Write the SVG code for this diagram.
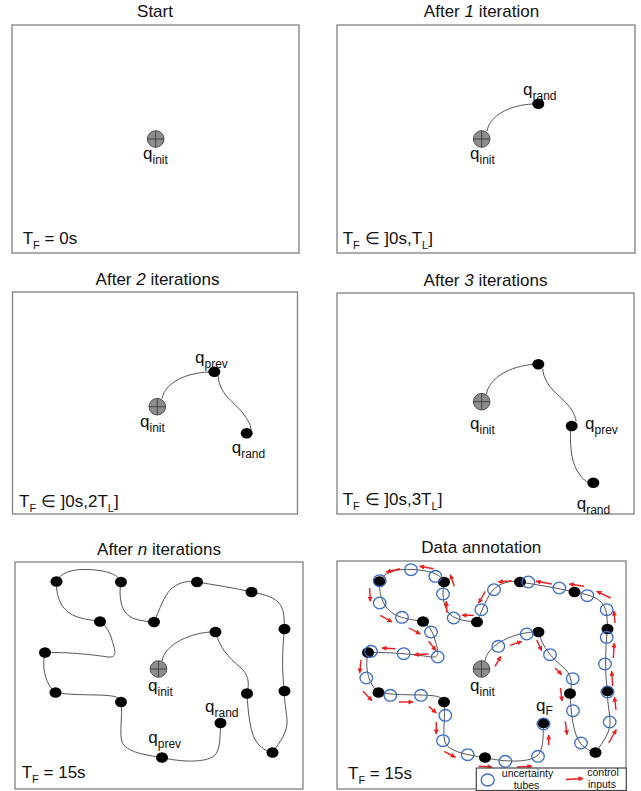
<svg xmlns="http://www.w3.org/2000/svg" xmlns:xlink="http://www.w3.org/1999/xlink" width="641" height="791" viewBox="0 0 641 791">
<style>
text{font-family:"Liberation Sans",Arial,sans-serif;fill:#111}
.title{font-size:17px;text-anchor:middle}
.q{font-size:17px}
.sub{font-size:12px}
.tf{font-size:17px}
.tsub{font-size:11px}
.leg{font-size:10.5px;text-anchor:middle}
.frame{fill:#fff;stroke:#808080;stroke-width:1.3}
.edge{fill:none;stroke:#555;stroke-width:1}
.dot{fill:#000}
.tube{fill:none;stroke:#3a6bc9;stroke-width:1.3}
.ctl{stroke:#ee1c1c;stroke-width:1.4;fill:none;marker-end:url(#ah)}
</style>
<defs>
<g id="qi"><circle r="8.3" fill="#8c8c8c" stroke="#505050" stroke-width="1"/><path d="M-8.3,0H8.3M0,-8.3V8.3" stroke="#333" stroke-width="0.8"/></g>
<marker id="ah" viewBox="0 0 10 10" refX="9" refY="5" markerUnits="userSpaceOnUse" markerWidth="6" markerHeight="5" orient="auto"><path d="M0,0L10,5L0,10z" fill="#ee1c1c"/></marker>
</defs>
<rect width="641" height="791" fill="#fff"/>

<!-- Panel 1 -->
<g id="panel1">
<rect class="frame" x="12" y="25" width="287" height="228"/>
<text class="title" x="155" y="17">Start</text>
<g id="p1-qinit"><use href="#qi" x="155.7" y="139"/><text class="q" x="143" y="159">q<tspan class="sub" dy="5">init</tspan></text></g>
<text class="tf" x="22.7" y="244">T<tspan class="tsub" dy="5">F</tspan><tspan dy="-5"> = 0s</tspan></text>
</g>

<!-- Panel 2 -->
<g id="panel2">
<rect class="frame" x="337" y="25" width="298" height="228"/>
<text class="title" x="481.5" y="17">After <tspan font-style="italic">1</tspan> iteration</text>
<g id="p2-connectors"><path class="edge" d="M487,131 C490,115 510,105 533,104"/></g>
<g id="p2-qinit"><use href="#qi" x="481.7" y="139"/><text class="q" x="470" y="159">q<tspan class="sub" dy="5">init</tspan></text></g>
<g id="p2-qrand"><ellipse class="dot" cx="538.3" cy="103.7" rx="6" ry="5.3"/><text class="q" x="523" y="95">q<tspan class="sub" dy="5">rand</tspan></text></g>
<text class="tf" x="342.7" y="244">T<tspan class="tsub" dy="5">F</tspan><tspan dy="-5"> ∈ ]0s,T</tspan><tspan class="tsub" dy="5">L</tspan><tspan dy="-5">]</tspan></text>
</g>

<!-- Panel 3 -->
<g id="panel3">
<rect class="frame" x="12.5" y="292" width="285" height="222"/>
<text class="title" x="157.5" y="285">After <tspan font-style="italic">2</tspan> iterations</text>
<g id="p3-connectors">
<path class="edge" d="M162,398.5 C165,383 185,373 209,372"/>
<path class="edge" d="M218,376 C220,395 232,400 242,412 C248,420 251,425 251,430"/>
</g>
<g id="p3-qinit"><use href="#qi" x="157.3" y="406.7"/><text class="q" x="140" y="426.7">q<tspan class="sub" dy="5">init</tspan></text></g>
<g id="p3-qprev"><ellipse class="dot" cx="214.3" cy="371.7" rx="6" ry="5.3"/><text class="q" x="195" y="362.7">q<tspan class="sub" dy="5">prev</tspan></text></g>
<g id="p3-qrand"><ellipse class="dot" cx="246.7" cy="433.3" rx="6" ry="5.3"/><text class="q" x="231.7" y="453.3">q<tspan class="sub" dy="5">rand</tspan></text></g>
<text class="tf" x="19" y="506.7">T<tspan class="tsub" dy="5">F</tspan><tspan dy="-5"> ∈ ]0s,2T</tspan><tspan class="tsub" dy="5">L</tspan><tspan dy="-5">]</tspan></text>
</g>

<!-- Panel 4 -->
<g id="panel4">
<rect class="frame" x="337" y="293" width="297" height="221"/>
<text class="title" x="485.5" y="286">After <tspan font-style="italic">3</tspan> iterations</text>
<g id="p4-connectors">
<path class="edge" d="M486.5,394 C489,378 510,366 533,364.5"/>
<path class="edge" d="M542.5,369 C545,388 560,395 568,405 C574,412 576,418 576,421.5"/>
<path class="edge" d="M570.5,431 C570,450 572,465 580,475 C583,479 586,482 589,482.5"/>
</g>
<g id="p4-qinit"><use href="#qi" x="481.7" y="401.7"/><text class="q" x="470" y="429.3">q<tspan class="sub" dy="5">init</tspan></text></g>
<g id="p4-n1"><ellipse class="dot" cx="538.3" cy="364.3" rx="6" ry="5.3"/></g>
<g id="p4-qprev"><ellipse class="dot" cx="571.7" cy="426" rx="6" ry="5.3"/><text class="q" x="585" y="429.3">q<tspan class="sub" dy="5">prev</tspan></text></g>
<g id="p4-qrand"><ellipse class="dot" cx="593.3" cy="482.7" rx="6" ry="5.3"/><text class="q" x="576.7" y="509.3">q<tspan class="sub" dy="5">rand</tspan></text></g>
<text class="tf" x="342.7" y="505">T<tspan class="tsub" dy="5">F</tspan><tspan dy="-5"> ∈ ]0s,3T</tspan><tspan class="tsub" dy="5">L</tspan><tspan dy="-5">]</tspan></text>
</g>

<!-- Panel 5 -->
<g id="panel5">
<rect class="frame" x="15" y="562" width="288" height="227"/>
<text class="title" x="159" y="555">After <tspan font-style="italic">n</tspan> iterations</text>
<g id="p5-connectors">
<path class="edge" d="M162,661 C164,647 185,634 210,632"/>
<path class="edge" d="M215.5,632 C220,648 228,657 240,667 C248,674 250,682 247,693.5"/>
<path class="edge" d="M247,693.5 C248,712 250,735 258,744 C263,749 268,752 272.5,752.5"/>
<path class="edge" d="M272.5,752.5 C280,742 288,732 287,720 C286,708 284,700 284.5,691"/>
<path class="edge" d="M284.5,691 C282,675 282,650 284.5,629"/>
<path class="edge" d="M284.5,629 C284,615 284,608 278,602 C272,596 262,594 251.5,592"/>
<path class="edge" d="M251.5,592 C235,588 215,585 197,582"/>
<path class="edge" d="M197,582 C185,580 176,584 170,590 C164,597 160,608 154,622"/>
<path class="edge" d="M154,622 C140,621 130,619 125,612 C120,605 119,592 121,582"/>
<path class="edge" d="M121,582 C118,575 110,571 90,569.5 C72,568.5 60,573 56.5,581.5"/>
<path class="edge" d="M56.5,581.5 C56,595 60,610 75,616 C85,620 93,620 100,621.5"/>
<path class="edge" d="M100,621.5 C106,626 110,632 112,640 C115,650 118,658 108,657 C95,655 70,652 45,652.5"/>
<path class="edge" d="M45,652.5 C42,665 44,683 55.5,692.5"/>
<path class="edge" d="M55.5,692.5 C75,696 100,694 112,696 C118,697 120,699 121,702"/>
<path class="edge" d="M121,702 C123,715 119,732 122,742 C126,752 145,755 162,757.5"/>
<path class="edge" d="M162,757.5 C180,762 205,763 214,756 C221,750 220,735 220.5,723"/>
</g>
<g id="p5-qinit"><use href="#qi" x="158.5" y="669"/><text class="q" x="148" y="691">q<tspan class="sub" dy="5">init</tspan></text></g>
<g id="p5-nodes">
<ellipse class="dot" cx="215.5" cy="632" rx="6" ry="5.3"/>
<ellipse class="dot" cx="247" cy="693.5" rx="6" ry="5.3"/>
<ellipse class="dot" cx="272.5" cy="752.5" rx="6" ry="5.3"/>
<ellipse class="dot" cx="284.5" cy="691" rx="6" ry="5.3"/>
<ellipse class="dot" cx="284.5" cy="629" rx="6" ry="5.3"/>
<ellipse class="dot" cx="251.5" cy="592" rx="6" ry="5.3"/>
<ellipse class="dot" cx="197" cy="582" rx="6" ry="5.3"/>
<ellipse class="dot" cx="154" cy="622" rx="6" ry="5.3"/>
<ellipse class="dot" cx="121" cy="582" rx="6" ry="5.3"/>
<ellipse class="dot" cx="56.5" cy="581.5" rx="6" ry="5.3"/>
<ellipse class="dot" cx="100" cy="621.5" rx="6" ry="5.3"/>
<ellipse class="dot" cx="45" cy="652.5" rx="6" ry="5.3"/>
<ellipse class="dot" cx="55.5" cy="692.5" rx="6" ry="5.3"/>
<ellipse class="dot" cx="121" cy="702" rx="6" ry="5.3"/>
</g>
<g id="p5-qprev"><ellipse class="dot" cx="162" cy="757.5" rx="6" ry="5.3"/><text class="q" x="148.3" y="743.3">q<tspan class="sub" dy="5">prev</tspan></text></g>
<g id="p5-qrand"><ellipse class="dot" cx="220.5" cy="723" rx="6" ry="5.3"/><text class="q" x="205" y="711.7">q<tspan class="sub" dy="5">rand</tspan></text></g>
<text class="tf" x="21.7" y="777.7">T<tspan class="tsub" dy="5">F</tspan><tspan dy="-5"> = 15s</tspan></text>
</g>

<!-- Panel 6 -->
<g id="panel6">
<rect class="frame" x="337" y="561" width="289" height="228"/>
<text class="title" x="481.3" y="553">Data annotation</text>
<g id="p6-connectors" transform="translate(323,0)">
<path class="edge" d="M162,661 C164,647 185,634 210,632"/>
<path class="edge" d="M215.5,632 C220,648 228,657 240,667 C248,674 250,682 247,693.5"/>
<path class="edge" d="M247,693.5 C248,712 250,735 258,744 C263,749 268,752 272.5,752.5"/>
<path class="edge" d="M272.5,752.5 C280,742 288,732 287,720 C286,708 284,700 284.5,691"/>
<path class="edge" d="M284.5,691 C282,675 282,650 284.5,629"/>
<path class="edge" d="M284.5,629 C284,615 284,608 278,602 C272,596 262,594 251.5,592"/>
<path class="edge" d="M251.5,592 C235,588 215,585 197,582"/>
<path class="edge" d="M197,582 C185,580 176,584 170,590 C164,597 160,608 154,622"/>
<path class="edge" d="M154,622 C140,621 130,619 125,612 C120,605 119,592 121,582"/>
<path class="edge" d="M121,582 C118,575 110,571 90,569.5 C72,568.5 60,573 56.5,581.5"/>
<path class="edge" d="M56.5,581.5 C56,595 60,610 75,616 C85,620 93,620 100,621.5"/>
<path class="edge" d="M100,621.5 C106,626 110,632 112,640 C115,650 118,658 108,657 C95,655 70,652 45,652.5"/>
<path class="edge" d="M45,652.5 C42,665 44,683 55.5,692.5"/>
<path class="edge" d="M55.5,692.5 C75,696 100,694 112,696 C118,697 120,699 121,702"/>
<path class="edge" d="M121,702 C123,715 119,732 122,742 C126,752 145,755 162,757.5"/>
<path class="edge" d="M162,757.5 C180,762 205,763 214,756 C221,750 220,735 220.5,723"/>
</g>
<g id="p6-nodes" transform="translate(323,0)">
<ellipse class="dot" cx="215.5" cy="632" rx="6" ry="5.3"/>
<ellipse class="dot" cx="247" cy="693.5" rx="6" ry="5.3"/>
<ellipse class="dot" cx="272.5" cy="752.5" rx="6" ry="5.3"/>
<ellipse class="dot" cx="284.5" cy="691" rx="6" ry="5.3"/>
<ellipse class="dot" cx="284.5" cy="629" rx="6" ry="5.3"/>
<ellipse class="dot" cx="251.5" cy="592" rx="6" ry="5.3"/>
<ellipse class="dot" cx="197" cy="582" rx="6" ry="5.3"/>
<ellipse class="dot" cx="154" cy="622" rx="6" ry="5.3"/>
<ellipse class="dot" cx="121" cy="582" rx="6" ry="5.3"/>
<ellipse class="dot" cx="56.5" cy="581.5" rx="6" ry="5.3"/>
<ellipse class="dot" cx="100" cy="621.5" rx="6" ry="5.3"/>
<ellipse class="dot" cx="45" cy="652.5" rx="6" ry="5.3"/>
<ellipse class="dot" cx="55.5" cy="692.5" rx="6" ry="5.3"/>
<ellipse class="dot" cx="121" cy="702" rx="6" ry="5.3"/>
<ellipse class="dot" cx="162" cy="757.5" rx="6" ry="5.3"/>
</g>
<g id="p6-qinit"><use href="#qi" x="481.5" y="669"/><text class="q" x="470" y="691">q<tspan class="sub" dy="5">init</tspan></text></g>
<g id="p6-qF"><ellipse class="dot" cx="543.5" cy="723" rx="6" ry="5.3"/><text class="q" x="536" y="711">q<tspan class="sub" dy="4">F</tspan></text></g>
<g id="p6-tubes">
<ellipse class="tube" cx="379.7" cy="580.7" rx="6.3" ry="5.8"/>
<ellipse class="tube" cx="411" cy="569.7" rx="6.3" ry="5.8"/>
<ellipse class="tube" cx="435.3" cy="576.3" rx="6.3" ry="5.8"/>
<ellipse class="tube" cx="443" cy="594" rx="6.3" ry="5.8"/>
<ellipse class="tube" cx="379.7" cy="603" rx="6.3" ry="5.8"/>
<ellipse class="tube" cx="402" cy="617.3" rx="6.3" ry="5.8"/>
<ellipse class="tube" cx="431" cy="632" rx="6.3" ry="5.8"/>
<ellipse class="tube" cx="453.7" cy="618" rx="6.3" ry="5.8"/>
<ellipse class="tube" cx="481.3" cy="609.7" rx="6.3" ry="5.8"/>
<ellipse class="tube" cx="371" cy="651.3" rx="6.3" ry="5.8"/>
<ellipse class="tube" cx="403.7" cy="653.7" rx="6.3" ry="5.8"/>
<ellipse class="tube" cx="437.7" cy="657" rx="6.3" ry="5.8"/>
<ellipse class="tube" cx="366.3" cy="678" rx="6.3" ry="5.8"/>
<ellipse class="tube" cx="494" cy="589.7" rx="6.3" ry="5.8"/>
<ellipse class="tube" cx="528.3" cy="582" rx="6.3" ry="5.8"/>
<ellipse class="tube" cx="559.3" cy="588" rx="6.3" ry="5.8"/>
<ellipse class="tube" cx="587.3" cy="595.7" rx="6.3" ry="5.8"/>
<ellipse class="tube" cx="606.7" cy="609.7" rx="6.3" ry="5.8"/>
<ellipse class="tube" cx="606.7" cy="637.3" rx="6.3" ry="5.8"/>
<ellipse class="tube" cx="605" cy="664" rx="6.3" ry="5.8"/>
<ellipse class="tube" cx="526.7" cy="634" rx="6.3" ry="5.8"/>
<ellipse class="tube" cx="498.3" cy="646.3" rx="6.3" ry="5.8"/>
<ellipse class="tube" cx="550" cy="654.7" rx="6.3" ry="5.8"/>
<ellipse class="tube" cx="572.7" cy="678.7" rx="6.3" ry="5.8"/>
<ellipse class="tube" cx="607.5" cy="692" rx="6.3" ry="5.8"/>
<ellipse class="tube" cx="390.3" cy="695.3" rx="6.3" ry="5.8"/>
<ellipse class="tube" cx="421" cy="695.3" rx="6.3" ry="5.8"/>
<ellipse class="tube" cx="445.3" cy="715.3" rx="6.3" ry="5.8"/>
<ellipse class="tube" cx="443" cy="740.7" rx="6.3" ry="5.8"/>
<ellipse class="tube" cx="467.7" cy="754.7" rx="6.3" ry="5.8"/>
<ellipse class="tube" cx="505.3" cy="761.3" rx="6.3" ry="5.8"/>
<ellipse class="tube" cx="538" cy="756.3" rx="6.3" ry="5.8"/>
<ellipse class="tube" cx="543.5" cy="724" rx="6.3" ry="5.8"/>
<ellipse class="tube" cx="573" cy="710.7" rx="6.3" ry="5.8"/>
<ellipse class="tube" cx="581" cy="743" rx="6.3" ry="5.8"/>
<ellipse class="tube" cx="609.7" cy="722" rx="6.3" ry="5.8"/>
</g>
<g id="p6-controls">
<line class="ctl" x1="400.3" y1="568.7" x2="386.3" y2="572"/>
<line class="ctl" x1="433.7" y1="568.7" x2="419.7" y2="566.3"/>
<line class="ctl" x1="454.3" y1="586.3" x2="450.3" y2="574.7"/>
<line class="ctl" x1="369.7" y1="588" x2="370.3" y2="601.3"/>
<line class="ctl" x1="380.3" y1="615.3" x2="392" y2="622"/>
<line class="ctl" x1="408.7" y1="628" x2="420.3" y2="634"/>
<line class="ctl" x1="428.7" y1="641.3" x2="436" y2="650.7"/>
<line class="ctl" x1="447" y1="613" x2="446.3" y2="601.3"/>
<line class="ctl" x1="473.7" y1="615.3" x2="462" y2="615.3"/>
<line class="ctl" x1="485.3" y1="591.3" x2="478.7" y2="603"/>
<line class="ctl" x1="395.3" y1="648.7" x2="382" y2="648"/>
<line class="ctl" x1="428.7" y1="654" x2="414.3" y2="654.7"/>
<line class="ctl" x1="361" y1="659.7" x2="359.7" y2="673"/>
<line class="ctl" x1="511.7" y1="580.7" x2="498.3" y2="582"/>
<line class="ctl" x1="551.7" y1="584" x2="536" y2="581.3"/>
<line class="ctl" x1="584" y1="586.3" x2="569.3" y2="584"/>
<line class="ctl" x1="610.7" y1="598" x2="596.7" y2="591.3"/>
<line class="ctl" x1="615" y1="623" x2="614" y2="611"/>
<line class="ctl" x1="613.3" y1="658" x2="614.3" y2="643"/>
<line class="ctl" x1="612.7" y1="686.3" x2="611.7" y2="671.3"/>
<line class="ctl" x1="616" y1="710" x2="614.5" y2="697"/>
<line class="ctl" x1="608.7" y1="743" x2="616.3" y2="729.7"/>
<line class="ctl" x1="510" y1="645.3" x2="521.7" y2="641.3"/>
<line class="ctl" x1="495" y1="666.3" x2="500.7" y2="656.3"/>
<line class="ctl" x1="536.7" y1="639.7" x2="541.7" y2="650.7"/>
<line class="ctl" x1="555" y1="668" x2="561.7" y2="674.7"/>
<line class="ctl" x1="560.5" y1="688" x2="562" y2="701"/>
<line class="ctl" x1="565.3" y1="721.3" x2="567" y2="734.7"/>
<line class="ctl" x1="363" y1="691.3" x2="372" y2="700.7"/>
<line class="ctl" x1="398.7" y1="702" x2="413" y2="702"/>
<line class="ctl" x1="428.7" y1="706.3" x2="436.3" y2="713"/>
<line class="ctl" x1="436.3" y1="722" x2="436.3" y2="734"/>
<line class="ctl" x1="444.3" y1="751.3" x2="455.3" y2="757.3"/>
<line class="ctl" x1="478.7" y1="766.3" x2="492" y2="767"/>
<line class="ctl" x1="517" y1="767" x2="532" y2="766.3"/>
<line class="ctl" x1="548.7" y1="745" x2="548.7" y2="735"/>
</g>
<text class="tf" x="348" y="779">T<tspan class="tsub" dy="5">F</tspan><tspan dy="-5"> = 15s</tspan></text>
<g id="legend">
<rect x="476.3" y="768" width="150" height="22.5" fill="#fff" stroke="#444" stroke-width="1.2"/>
<ellipse class="tube" cx="487.7" cy="780" rx="6.5" ry="6"/>
<text class="leg" x="527.5" y="777">uncertainty</text>
<text class="leg" x="526.5" y="789.3">tubes</text>
<line class="ctl" x1="566" y1="779.5" x2="583" y2="778.5"/>
<text class="leg" x="603" y="776">control</text>
<text class="leg" x="602" y="788.3">inputs</text>
</g>
</g>
</svg>
